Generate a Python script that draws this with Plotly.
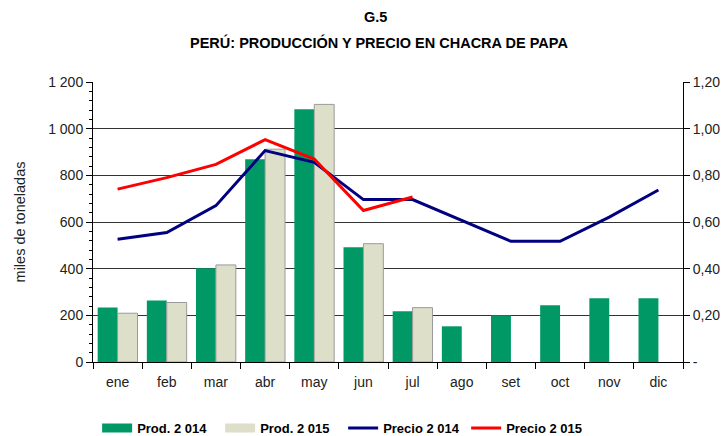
import plotly.graph_objects as go

months = ["ene", "feb", "mar", "abr", "may", "jun", "jul", "ago", "set", "oct", "nov", "dic"]
prod_2014 = [234, 264, 402, 869, 1083, 492, 217, 153, 200, 243, 273, 273]
prod_2015 = [209, 255, 416, 912, 1104, 507, 233, None, None, None, None, None]
precio_2014 = [0.526, 0.555, 0.670, 0.906, 0.856, 0.696, 0.696, 0.607, 0.517, 0.517, 0.621, 0.737]
precio_2015 = [0.741, 0.790, 0.847, 0.953, 0.870, 0.649, 0.707, None, None, None, None, None]

left_ticks = [0, 200, 400, 600, 800, 1000, 1200]
left_text = ["0", "200", "400", "600", "800", "1 000", "1 200"]
right_ticks = [0, 0.2, 0.4, 0.6, 0.8, 1.0, 1.2]
right_text = ["-", "0,20", "0,40", "0,60", "0,80", "1,00", "1,20"]

font = "Liberation Sans, Arial, sans-serif"
GREEN = "#009966"
BEIGE = "#DDDFC9"

fig = go.Figure()
fig.add_trace(go.Bar(x=months, y=prod_2014, name="Prod. 2 014", showlegend=False,
                     marker=dict(color=GREEN, line=dict(width=0))))
fig.add_trace(go.Bar(x=months, y=prod_2015, name="Prod. 2 015", showlegend=False,
                     marker=dict(color=BEIGE, line=dict(color="#9a9a9a", width=1))))
fig.add_trace(go.Scatter(x=months, y=precio_2014, name="Precio 2 014", yaxis="y2",
                         mode="lines", line=dict(color="#000080", width=3), showlegend=False))
fig.add_trace(go.Scatter(x=months, y=precio_2015, name="Precio 2 015", yaxis="y2",
                         mode="lines", line=dict(color="#FF0000", width=3), showlegend=False))

# legend entries (wide swatches like the reference)
legend_items = [("Prod. 2 014", GREEN, 9), ("Prod. 2 015", BEIGE, 9),
                ("Precio 2 014", "#000080", 3), ("Precio 2 015", "#FF0000", 3)]
for name, color, w in legend_items:
    fig.add_trace(go.Scatter(x=[None], y=[None], name=name, mode="lines",
                             line=dict(color=color, width=w), showlegend=True))

fig.update_layout(
    width=728, height=436,
    margin=dict(l=93, r=45, t=82, b=74, autoexpand=False),
    paper_bgcolor="white", plot_bgcolor="white",
    font=dict(family=font, size=14, color="#222"),
    barmode="group", bargap=0.19, bargroupgap=0,
    xaxis=dict(type="category", showline=True, linecolor="#000", linewidth=1,
               ticks="outside", tickson="boundaries", ticklen=6, tickcolor="#000",
               tickfont=dict(size=14, color="#222"), showgrid=False,
               ticklabelstandoff=7),
    yaxis=dict(range=[0, 1200], tickvals=left_ticks, ticktext=left_text,
               showline=True, linecolor="#000", linewidth=1,
               ticks="outside", ticklen=6, tickcolor="#000",
               minor=dict(ticks="outside", ticklen=3, tickcolor="#000", dtick=40, showgrid=False),
               showgrid=True, gridcolor="#333", gridwidth=1,
               title=dict(text="miles de toneladas", font=dict(size=14.5, color="#222"), standoff=19),
               tickfont=dict(size=14, color="#222"), zeroline=False),
    yaxis2=dict(range=[0, 1.2], tickvals=right_ticks, ticktext=right_text,
                overlaying="y", side="right", showline=True, linecolor="#000", linewidth=1,
                ticks="outside", ticklen=6, tickcolor="#000", showgrid=False, zeroline=False,
                tickfont=dict(size=14, color="#222")),
    legend=dict(orientation="h", x=0.007, xanchor="left", y=-0.236, yanchor="middle",
                font=dict(family=font, size=13, color="#000", weight="bold"),
                traceorder="normal", entrywidth=78, itemwidth=30),
    showlegend=True,
    annotations=[
        dict(text="<b>G.5</b>", xref="paper", yref="paper", x=(375 - 93) / 590, y=(362 - 17) / 280,
             xanchor="center", yanchor="middle", showarrow=False,
             font=dict(family=font, size=14.5, color="#000")),
        dict(text="<b>PERÚ: PRODUCCIÓN Y PRECIO EN CHACRA DE PAPA</b>", xref="paper", yref="paper",
             x=(379 - 93) / 590, y=(362 - 42) / 280,
             xanchor="center", yanchor="middle", showarrow=False,
             font=dict(family=font, size=14.5, color="#000")),
    ],
)

fig.write_html("out.html", config={"displayModeBar": False},
               post_script="document.body.style.margin='0';")
